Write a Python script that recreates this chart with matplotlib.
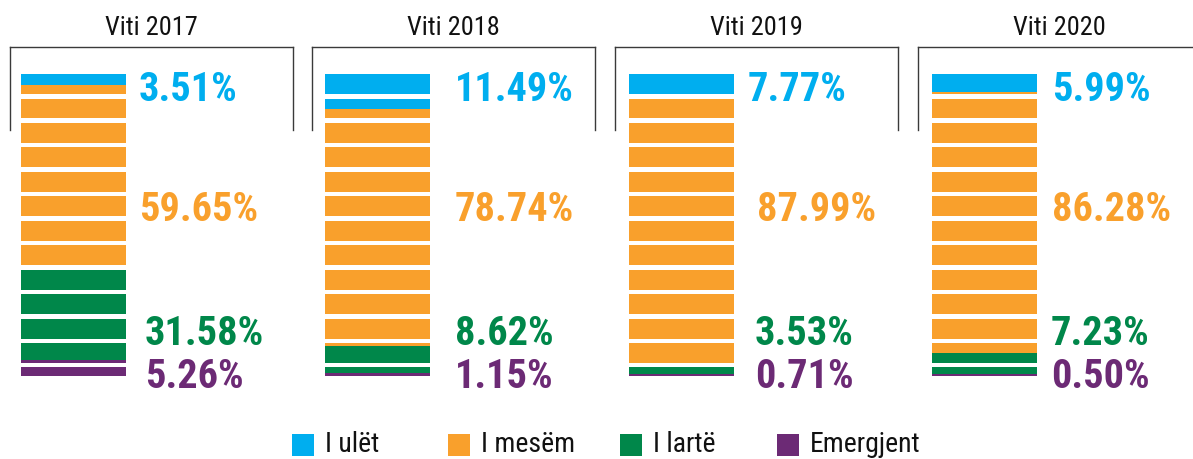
import matplotlib
matplotlib.use("Agg")
import matplotlib.pyplot as plt
from matplotlib import font_manager
from matplotlib.lines import Line2D
from matplotlib.patches import Rectangle
import numpy as np

# ---------------- data ----------------
years = ["Viti 2017", "Viti 2018", "Viti 2019", "Viti 2020"]
categories = ["I ulët", "I mesëm", "I lartë", "Emergjent"]
ulet = [3.51, 11.49, 7.77, 5.99]
mesem = [59.65, 78.74, 87.99, 86.28]
larte = [31.58, 8.62, 3.53, 7.23]
emergjent = [5.26, 1.15, 0.71, 0.50]
colors = ["#00aeef", "#f9a02c", "#00874a", "#6c2a75"]

# ---------------- fonts ----------------
candidates = ["Roboto Condensed", "Archivo Narrow", "PT Sans Narrow", "Fira Sans Condensed",
              "IBM Plex Sans Condensed", "Encode Sans Condensed", "Barlow Semi Condensed",
              "Asap Condensed", "Sofia Sans Condensed", "Liberation Sans Narrow"]
entries = font_manager.fontManager.ttflist

def static_file(name, weight):
    for f in entries:
        fn = f.fname.split("/")[-1]
        if f.name == name and f.weight == weight and "[" not in fn and "Italic" not in fn:
            return f.fname
    return None

FAM = None
for c in candidates:
    if static_file(c, 700) and static_file(c, 400):
        FAM = c
        break
if FAM is None:
    FONT = dict(family="DejaVu Sans", stretch="condensed")
    LABEL_WEIGHT = "bold"
else:
    FONT = dict(family=FAM)
    LABEL_WEIGHT = 800 if static_file(FAM, 800) else "bold"

W, H = 1193, 459
fig = plt.figure(figsize=(W / 100, H / 100), dpi=100)

def fx(px):
    return px / W

def fy(py):
    return 1 - py / H

frame_left = [10, 312, 615, 918]
frame_w = 283
bar_left = [21, 325, 629, 932]
bar_px = 105
bar_top, bar_bot = 74, 376
label_y_px = [90, 210, 334, 377]
label_dx = [[13, 13, 19, 19], [25, 25, 25, 25], [14, 23, 21, 21], [15, 15, 14, 14]]

# white separator stripes (pattern in pixel units from bar top)
gap_start_px = 94 + 24.45 * np.arange(12)
gap_h_px = 4.5

for i, year in enumerate(years):
    ax = fig.add_axes([fx(frame_left[i]), fy(bar_bot), fx(frame_w), (bar_bot - bar_top) / H])
    unit = bar_px
    x0 = -0.5 - (bar_left[i] - frame_left[i]) / unit
    ax.set_xlim(x0, x0 + frame_w / unit)
    ax.set_ylim(0, 100)
    ax.axis("off")

    vals = [ulet[i], mesem[i], larte[i], emergjent[i]]
    bottom = 0.0
    for v, c in zip(reversed(vals), reversed(colors)):
        ax.bar(0, v, bottom=bottom, width=1.0, color=c, linewidth=0)
        bottom += v
    ppu = (bar_bot - bar_top) / 100.0
    for g in gap_start_px:
        y_hi = (bar_bot - g) / ppu
        y_lo = (bar_bot - g - gap_h_px) / ppu
        ax.bar(0, y_hi - y_lo, bottom=y_lo, width=1.02, color="white", linewidth=0)

    for k, (v, c) in enumerate(zip(vals, colors)):
        ly = (bar_bot - label_y_px[k]) / ppu
        lx = 0.5 + label_dx[i][k] / unit
        ax.text(lx, ly, f"{v:.2f}%", color=c, fontsize=29, fontweight=LABEL_WEIGHT,
                ha="left", va="center", clip_on=False, **FONT)

    l, r = frame_left[i], frame_left[i] + frame_w
    top, low = 47, 130
    for xs, ys in [([l, l], [low, top]), ([l, r], [top, top]), ([r, r], [top, low])]:
        fig.add_artist(Line2D([fx(x) for x in xs], [fy(y) for y in ys],
                              color="#3a3a3a", linewidth=1.0))
    fig.text(fx(l + frame_w / 2), fy(28), year, ha="center", va="center",
             fontsize=19, color="#111111", **FONT)

leg_sq_x = [292, 448, 620, 777]
for cat, c, sx in zip(categories, colors, leg_sq_x):
    fig.add_artist(Rectangle((fx(sx), fy(456)), fx(22), 22 / H, color=c, linewidth=0))
    fig.text(fx(sx + 33), fy(444), cat, ha="left", va="center", fontsize=20,
             color="#111111", **FONT)

fig.savefig("out.png", dpi=100)
